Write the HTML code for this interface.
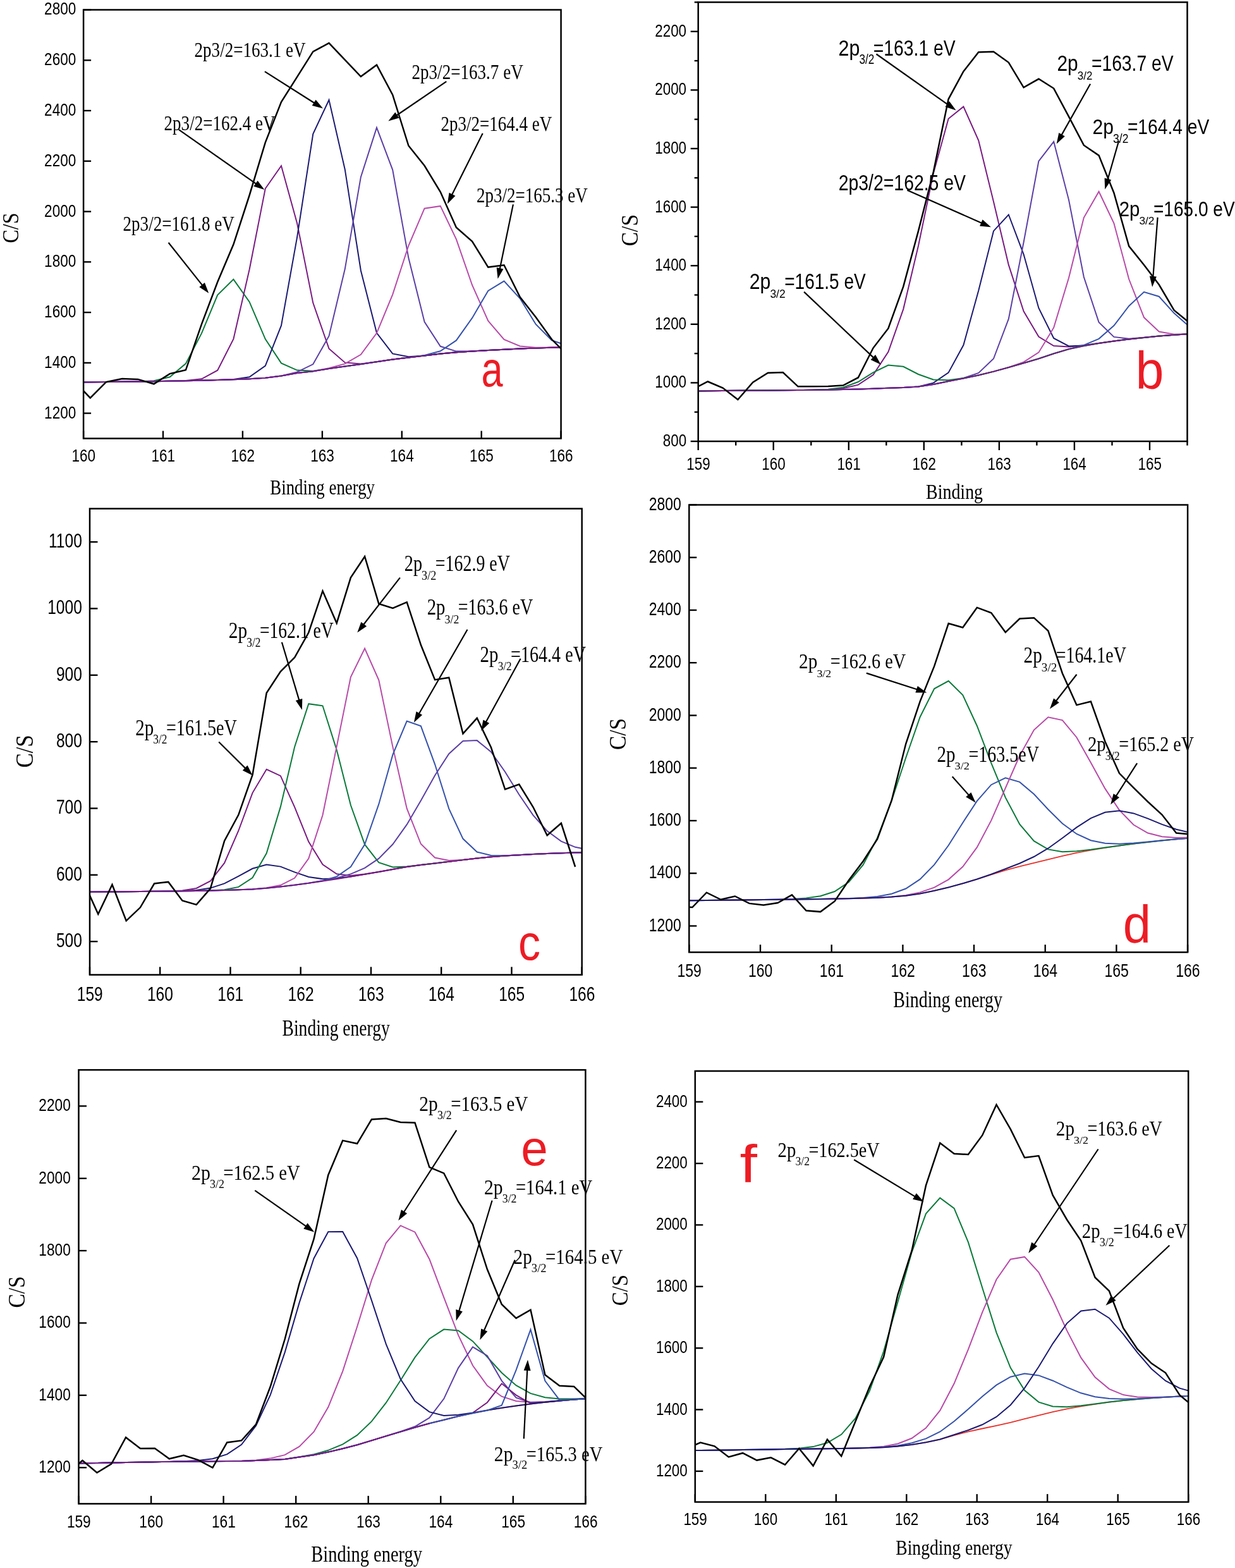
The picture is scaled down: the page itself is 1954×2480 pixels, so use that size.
<!DOCTYPE html><html><head><meta charset="utf-8"><style>html,body{margin:0;padding:0;background:#fff;width:1954px;height:2480px;overflow:hidden}svg{display:block}</style></head><body>
<svg width="1954" height="2480" viewBox="0 0 1954 2480" font-family='"Liberation Sans", Arial, sans-serif'>
<rect width="1954" height="2480" fill="#fff"/>
<clipPath id="ca"><rect x="132.1" y="15.5" width="755.5" height="678.0"/></clipPath>
<g clip-path="url(#ca)">
<polyline points="117.6,604.5 142.8,604.3 168.0,604.1 193.2,603.8 218.3,603.5 243.5,603.2 268.7,602.7 293.9,602.2 319.1,601.7 344.2,601.0 369.4,600.2 394.6,599.3 419.8,597.7 445.0,594.6 470.1,590.0 495.3,587.3 520.5,583.1 545.7,579.4 570.9,576.1 596.0,572.2 621.2,568.5 646.4,565.5 671.6,562.6 696.8,559.6 721.9,557.3 747.1,555.6 772.3,554.1 797.5,552.8 822.7,551.6 847.8,550.6 873.0,549.7 898.2,549.0" fill="none" stroke="#7a1a82" stroke-width="2.0" stroke-linejoin="miter" stroke-miterlimit="4"/>
<polyline points="117.6,604.5 142.8,604.3 168.0,604.1 193.2,603.8 218.3,603.4 243.5,602.2 268.7,596.3 293.9,575.1 319.1,526.9 344.2,466.5 369.4,441.9 394.6,477.4 419.8,536.3 445.0,574.4 470.1,585.6 495.3,586.7 520.5,583.0 545.7,579.4 570.9,576.1 596.0,572.2 621.2,568.5 646.4,565.5 671.6,562.6 696.8,559.6 721.9,557.3 747.1,555.6 772.3,554.1 797.5,552.8 822.7,551.6 847.8,550.6 873.0,549.7 898.2,549.0" fill="none" stroke="#0b7a3b" stroke-width="2.0" stroke-linejoin="miter" stroke-miterlimit="4"/>
<polyline points="117.6,604.5 142.8,604.3 168.0,604.1 193.2,603.8 218.3,603.5 243.5,603.2 268.7,602.7 293.9,602.0 319.1,599.3 344.2,585.7 369.4,536.1 394.6,426.3 419.8,298.3 445.0,262.2 470.1,353.2 495.3,479.1 520.5,551.4 545.7,573.4 570.9,575.4 596.0,572.2 621.2,568.5 646.4,565.5 671.6,562.6 696.8,559.6 721.9,557.3 747.1,555.6 772.3,554.1 797.5,552.8 822.7,551.6 847.8,550.6 873.0,549.7 898.2,549.0" fill="none" stroke="#7a1a82" stroke-width="2.0" stroke-linejoin="miter" stroke-miterlimit="4"/>
<polyline points="117.6,604.5 142.8,604.3 168.0,604.1 193.2,603.8 218.3,603.5 243.5,603.2 268.7,602.7 293.9,602.2 319.1,601.7 344.2,601.0 369.4,599.9 394.6,596.3 419.8,578.5 445.0,514.9 470.1,375.1 495.3,211.8 520.5,158.0 545.7,267.7 570.9,428.0 596.0,526.6 621.2,559.4 646.4,564.3 671.6,562.5 696.8,559.6 721.9,557.3 747.1,555.6 772.3,554.1 797.5,552.8 822.7,551.6 847.8,550.6 873.0,549.7 898.2,549.0" fill="none" stroke="#1b1a72" stroke-width="2.0" stroke-linejoin="miter" stroke-miterlimit="4"/>
<polyline points="117.6,604.5 142.8,604.3 168.0,604.1 193.2,603.8 218.3,603.5 243.5,603.2 268.7,602.7 293.9,602.2 319.1,601.7 344.2,601.0 369.4,600.2 394.6,599.3 419.8,597.7 445.0,594.5 470.1,588.4 495.3,576.1 520.5,531.5 545.7,425.8 570.9,279.9 596.0,201.9 621.2,268.6 646.4,408.1 671.6,509.1 696.8,547.8 721.9,555.6 747.1,555.4 772.3,554.1 797.5,552.8 822.7,551.6 847.8,550.6 873.0,549.7 898.2,549.0" fill="none" stroke="#5b3fa5" stroke-width="2.0" stroke-linejoin="miter" stroke-miterlimit="4"/>
<polyline points="117.6,604.5 142.8,604.3 168.0,604.1 193.2,603.8 218.3,603.5 243.5,603.2 268.7,602.7 293.9,602.2 319.1,601.7 344.2,601.0 369.4,600.2 394.6,599.3 419.8,597.7 445.0,594.6 470.1,590.0 495.3,587.2 520.5,582.3 545.7,575.4 570.9,560.8 596.0,526.8 621.2,465.8 646.4,388.5 671.6,329.7 696.8,325.9 721.9,378.3 747.1,451.0 772.3,507.5 797.5,536.9 822.7,547.5 847.8,549.8 873.0,549.6 898.2,549.0" fill="none" stroke="#b84aa8" stroke-width="2.0" stroke-linejoin="miter" stroke-miterlimit="4"/>
<polyline points="117.6,604.5 142.8,604.3 168.0,604.1 193.2,603.8 218.3,603.5 243.5,603.2 268.7,602.7 293.9,602.2 319.1,601.7 344.2,601.0 369.4,600.2 394.6,599.3 419.8,597.7 445.0,594.6 470.1,590.0 495.3,587.3 520.5,583.1 545.7,579.4 570.9,576.1 596.0,572.2 621.2,568.5 646.4,565.4 671.6,562.0 696.8,555.3 721.9,538.4 747.1,502.9 772.3,459.9 797.5,444.6 822.7,472.0 847.8,513.0 873.0,538.3 898.2,546.8" fill="none" stroke="#3552ab" stroke-width="2.0" stroke-linejoin="miter" stroke-miterlimit="4"/>
<polyline points="117.6,604.5 142.8,604.3 168.0,604.1 193.2,603.8 218.3,603.5 243.5,603.2 268.7,602.7 293.9,602.2 319.1,601.7 344.2,601.0 369.4,600.2 394.6,599.3 419.8,597.7 445.0,594.6 470.1,590.0 495.3,587.3 520.5,583.1 545.7,579.4 570.9,576.1 596.0,572.2 621.2,568.5 646.4,565.5 671.6,562.6 696.8,559.6 721.9,557.3 747.1,555.6 772.3,554.1 797.5,552.8 822.7,551.6 847.8,550.6 873.0,549.7 898.2,549.0" fill="none" stroke="#7a1a82" stroke-width="1.8" stroke-linejoin="miter" stroke-miterlimit="4"/>
<polyline points="117.6,603.0 142.8,629.4 168.0,604.2 193.2,599.0 218.3,599.9 243.5,607.3 268.7,591.1 293.9,585.3 319.1,512.4 344.2,446.0 369.4,386.6 394.6,309.0 419.8,225.4 445.0,161.4 470.1,121.7 495.3,81.6 520.5,68.1 545.7,94.7 570.9,121.1 596.0,102.7 621.2,150.0 646.4,230.5 671.6,262.0 696.8,303.5 721.9,359.8 747.1,381.8 772.3,422.6 797.5,419.3 822.7,469.8 847.8,501.8 873.0,536.8 898.2,562.0" fill="none" stroke="#000" stroke-width="2.5" stroke-linejoin="miter" stroke-miterlimit="4"/>
</g>
<text transform="translate(307.58,90.40) scale(0.8007,1)" font-family='"Liberation Serif", "Times New Roman", serif' font-size="33.79" fill="#000">2p3/2=163.1 eV</text>
<line x1="418.9" y1="113.1" x2="498.3" y2="163.5" stroke="#000" stroke-width="2.2"/>
<polygon points="511.0,171.5 493.7,167.0 499.6,157.8" fill="#000"/>
<text transform="translate(259.58,206.30) scale(0.8007,1)" font-family='"Liberation Serif", "Times New Roman", serif' font-size="33.79" fill="#000">2p3/2=162.4 eV</text>
<line x1="283.0" y1="205.1" x2="406.1" y2="291.4" stroke="#000" stroke-width="2.2"/>
<polygon points="418.4,300.0 401.3,294.7 407.6,285.7" fill="#000"/>
<text transform="translate(651.48,124.80) scale(0.8021,1)" font-family='"Liberation Serif", "Times New Roman", serif' font-size="33.79" fill="#000">2p3/2=163.7 eV</text>
<line x1="706.3" y1="128.8" x2="626.8" y2="183.0" stroke="#000" stroke-width="2.2"/>
<polygon points="614.4,191.5 625.3,177.4 631.5,186.5" fill="#000"/>
<text transform="translate(697.48,206.50) scale(0.8112,1)" font-family='"Liberation Serif", "Times New Roman", serif' font-size="33.33" fill="#000">2p3/2=164.4 eV</text>
<line x1="763.7" y1="210.9" x2="714.6" y2="309.1" stroke="#000" stroke-width="2.2"/>
<polygon points="707.9,322.5 710.6,304.8 720.4,309.8" fill="#000"/>
<text transform="translate(753.88,320.30) scale(0.8007,1)" font-family='"Liberation Serif", "Times New Roman", serif' font-size="33.79" fill="#000">2p3/2=165.3 eV</text>
<line x1="811.9" y1="323.4" x2="790.6" y2="426.2" stroke="#000" stroke-width="2.2"/>
<polygon points="787.6,440.9 785.7,423.1 796.4,425.4" fill="#000"/>
<text transform="translate(194.48,364.80) scale(0.7815,1)" font-family='"Liberation Serif", "Times New Roman", serif' font-size="34.70" fill="#000">2p3/2=161.8 eV</text>
<line x1="266.6" y1="383.8" x2="320.9" y2="452.1" stroke="#000" stroke-width="2.2"/>
<polygon points="330.2,463.8 315.3,453.9 323.9,447.1" fill="#000"/>
<rect x="132.1" y="15.5" width="755.5" height="678.0" fill="none" stroke="#000" stroke-width="2.5"/>
<line x1="132.1" y1="693.5" x2="132.1" y2="681.5" stroke="#000" stroke-width="2.38"/>
<line x1="258.0" y1="693.5" x2="258.0" y2="681.5" stroke="#000" stroke-width="2.38"/>
<line x1="383.9" y1="693.5" x2="383.9" y2="681.5" stroke="#000" stroke-width="2.38"/>
<line x1="509.9" y1="693.5" x2="509.9" y2="681.5" stroke="#000" stroke-width="2.38"/>
<line x1="635.8" y1="693.5" x2="635.8" y2="681.5" stroke="#000" stroke-width="2.38"/>
<line x1="761.7" y1="693.5" x2="761.7" y2="681.5" stroke="#000" stroke-width="2.38"/>
<line x1="887.6" y1="693.5" x2="887.6" y2="681.5" stroke="#000" stroke-width="2.38"/>
<line x1="132.1" y1="653.6" x2="144.1" y2="653.6" stroke="#000" stroke-width="2.38"/>
<line x1="132.1" y1="573.9" x2="144.1" y2="573.9" stroke="#000" stroke-width="2.38"/>
<line x1="132.1" y1="494.1" x2="144.1" y2="494.1" stroke="#000" stroke-width="2.38"/>
<line x1="132.1" y1="414.3" x2="144.1" y2="414.3" stroke="#000" stroke-width="2.38"/>
<line x1="132.1" y1="334.6" x2="144.1" y2="334.6" stroke="#000" stroke-width="2.38"/>
<line x1="132.1" y1="254.8" x2="144.1" y2="254.8" stroke="#000" stroke-width="2.38"/>
<line x1="132.1" y1="175.0" x2="144.1" y2="175.0" stroke="#000" stroke-width="2.38"/>
<line x1="132.1" y1="95.3" x2="144.1" y2="95.3" stroke="#000" stroke-width="2.38"/>
<line x1="132.1" y1="15.5" x2="144.1" y2="15.5" stroke="#000" stroke-width="2.38"/>
<text transform="translate(70.08,661.57) scale(0.8100,1)" font-size="27.86">1200</text>
<text transform="translate(70.08,581.80) scale(0.8100,1)" font-size="27.86">1400</text>
<text transform="translate(70.08,502.04) scale(0.8100,1)" font-size="27.86">1600</text>
<text transform="translate(70.08,422.27) scale(0.8100,1)" font-size="27.86">1800</text>
<text transform="translate(70.08,342.51) scale(0.8100,1)" font-size="27.86">2000</text>
<text transform="translate(70.08,262.74) scale(0.8100,1)" font-size="27.86">2200</text>
<text transform="translate(70.08,182.98) scale(0.8100,1)" font-size="27.86">2400</text>
<text transform="translate(70.08,103.21) scale(0.8100,1)" font-size="27.86">2600</text>
<text transform="translate(70.08,23.45) scale(0.8100,1)" font-size="27.86">2800</text>
<text transform="translate(113.46,729.70) scale(0.8100,1)" font-size="27.86">160</text>
<text transform="translate(239.49,729.70) scale(0.8100,1)" font-size="27.86">161</text>
<text transform="translate(365.47,729.70) scale(0.8100,1)" font-size="27.86">162</text>
<text transform="translate(491.27,729.70) scale(0.8100,1)" font-size="27.86">163</text>
<text transform="translate(617.07,729.70) scale(0.8100,1)" font-size="27.86">164</text>
<text transform="translate(743.10,729.70) scale(0.8100,1)" font-size="27.86">165</text>
<text transform="translate(869.02,729.70) scale(0.8100,1)" font-size="27.86">166</text>
<text transform="translate(28.50,384.48) rotate(-90) scale(0.8837,1)" font-family='"Liberation Serif", "Times New Roman", serif' font-size="36.21">C/S</text>
<text transform="translate(427.29,781.80) scale(0.7848,1)" font-family='"Liberation Serif", "Times New Roman", serif' font-size="34.20" fill="#000">Binding energy</text>
<text transform="translate(761.55,610.60) scale(0.7796,1)" font-family='"Liberation Sans", Arial, sans-serif' font-size="78.70" fill="#ec1c24">a</text>
<clipPath id="cb"><rect x="1104.7" y="3.5" width="773.8" height="694.5"/></clipPath>
<g clip-path="url(#cb)">
<polyline points="1096.0,618.5 1119.8,618.2 1143.6,618.0 1167.4,617.7 1191.2,617.6 1215.0,617.4 1238.8,617.2 1262.6,617.0 1286.4,616.7 1310.2,616.0 1334.0,614.2 1357.8,608.6 1381.6,592.8 1405.4,556.6 1429.2,489.1 1453.0,388.7 1476.8,274.3 1500.6,187.8 1524.4,168.7 1548.2,222.0 1572.0,319.1 1595.8,418.9 1619.6,492.3 1643.4,532.6 1667.2,547.0 1691.0,548.6 1714.8,546.3 1738.6,542.7 1762.4,539.4 1786.2,536.5 1810.0,533.9 1833.8,531.6 1857.6,529.7 1881.4,528.2 1905.2,527.3" fill="none" stroke="#7a1a82" stroke-width="2.0" stroke-linejoin="miter" stroke-miterlimit="4"/>
<polyline points="1096.0,618.5 1119.8,618.2 1143.6,618.0 1167.4,617.7 1191.2,617.6 1215.0,617.4 1238.8,617.2 1262.6,617.0 1286.4,616.8 1310.2,616.5 1334.0,616.1 1357.8,615.6 1381.6,614.7 1405.4,613.8 1429.2,612.9 1453.0,611.4 1476.8,605.6 1500.6,589.4 1524.4,545.8 1548.2,459.7 1572.0,365.4 1595.8,339.5 1619.6,402.3 1643.4,487.2 1667.2,534.9 1691.0,547.4 1714.8,546.5 1738.6,542.9 1762.4,539.5 1786.2,536.5 1810.0,533.9 1833.8,531.6 1857.6,529.7 1881.4,528.2 1905.2,527.3" fill="none" stroke="#1b1a72" stroke-width="2.0" stroke-linejoin="miter" stroke-miterlimit="4"/>
<polyline points="1096.0,618.5 1119.8,618.2 1143.6,618.0 1167.4,617.7 1191.2,617.6 1215.0,617.4 1238.8,617.2 1262.6,617.0 1286.4,616.8 1310.2,616.5 1334.0,616.1 1357.8,615.6 1381.6,614.7 1405.4,613.8 1429.2,612.9 1453.0,611.6 1476.8,607.9 1500.6,603.0 1524.4,598.0 1548.2,589.9 1572.0,567.3 1595.8,504.4 1619.6,383.2 1643.4,254.9 1667.2,224.1 1691.0,316.1 1714.8,438.0 1738.6,509.8 1762.4,532.9 1786.2,535.7 1810.0,533.8 1833.8,531.6 1857.6,529.7 1881.4,528.2 1905.2,527.3" fill="none" stroke="#5b3fa5" stroke-width="2.0" stroke-linejoin="miter" stroke-miterlimit="4"/>
<polyline points="1096.0,618.5 1119.8,618.2 1143.6,618.0 1167.4,617.7 1191.2,617.6 1215.0,617.4 1238.8,617.2 1262.6,617.0 1286.4,616.8 1310.2,616.5 1334.0,616.1 1357.8,615.6 1381.6,614.7 1405.4,613.8 1429.2,612.9 1453.0,611.6 1476.8,607.9 1500.6,603.0 1524.4,598.4 1548.2,593.4 1572.0,587.6 1595.8,581.0 1619.6,572.7 1643.4,557.4 1667.2,518.2 1691.0,439.6 1714.8,344.3 1738.6,303.0 1762.4,353.1 1786.2,441.5 1810.0,502.1 1833.8,524.6 1857.6,528.7 1881.4,528.1 1905.2,527.3" fill="none" stroke="#b84aa8" stroke-width="2.0" stroke-linejoin="miter" stroke-miterlimit="4"/>
<polyline points="1096.0,618.5 1119.8,618.2 1143.6,618.0 1167.4,617.7 1191.2,617.6 1215.0,617.4 1238.8,617.2 1262.6,617.0 1286.4,616.8 1310.2,616.5 1334.0,616.1 1357.8,615.6 1381.6,614.7 1405.4,613.8 1429.2,612.9 1453.0,611.6 1476.8,607.9 1500.6,603.0 1524.4,598.4 1548.2,593.4 1572.0,587.6 1595.8,581.1 1619.6,574.3 1643.4,567.3 1667.2,559.3 1691.0,552.1 1714.8,545.8 1738.6,535.8 1762.4,515.1 1786.2,483.9 1810.0,461.8 1833.8,469.0 1857.6,495.3 1881.4,516.3 1905.2,524.7" fill="none" stroke="#3552ab" stroke-width="2.0" stroke-linejoin="miter" stroke-miterlimit="4"/>
<polyline points="1096.0,618.5 1119.8,618.2 1143.6,618.0 1167.4,617.7 1191.2,617.6 1215.0,617.4 1238.8,617.2 1262.6,617.0 1286.4,616.7 1310.2,615.8 1334.0,612.7 1357.8,604.0 1381.6,589.2 1405.4,577.6 1429.2,579.8 1453.0,592.0 1476.8,600.4 1500.6,601.2 1524.4,598.1 1548.2,593.4 1572.0,587.6 1595.8,581.1 1619.6,574.3 1643.4,567.3 1667.2,559.3 1691.0,552.2 1714.8,547.2 1738.6,542.9 1762.4,539.5 1786.2,536.5 1810.0,533.9 1833.8,531.6 1857.6,529.7 1881.4,528.2 1905.2,527.3" fill="none" stroke="#0b7a3b" stroke-width="2.0" stroke-linejoin="miter" stroke-miterlimit="4"/>
<polyline points="1096.0,618.5 1119.8,618.2 1143.6,618.0 1167.4,617.7 1191.2,617.6 1215.0,617.4 1238.8,617.2 1262.6,617.0 1286.4,616.8 1310.2,616.5 1334.0,616.1 1357.8,615.6 1381.6,614.7 1405.4,613.8 1429.2,612.9 1453.0,611.6 1476.8,607.9 1500.6,603.0 1524.4,598.4 1548.2,593.4 1572.0,587.6 1595.8,581.1 1619.6,574.3 1643.4,567.3 1667.2,559.3 1691.0,552.2 1714.8,547.2 1738.6,542.9 1762.4,539.5 1786.2,536.5 1810.0,533.9 1833.8,531.6 1857.6,529.7 1881.4,528.2 1905.2,527.3" fill="none" stroke="#7a1a82" stroke-width="1.8" stroke-linejoin="miter" stroke-miterlimit="4"/>
<polyline points="1096.0,615.6 1119.8,603.5 1143.6,613.6 1167.4,632.0 1191.2,604.8 1215.0,589.8 1238.8,589.0 1262.6,611.3 1286.4,611.3 1310.2,610.9 1334.0,609.5 1357.8,597.2 1381.6,550.3 1405.4,519.4 1429.2,453.4 1453.0,365.4 1476.8,272.0 1500.6,156.8 1524.4,112.9 1548.2,82.5 1572.0,81.8 1595.8,98.8 1619.6,138.4 1643.4,124.8 1667.2,139.8 1691.0,184.4 1714.8,229.7 1738.6,245.9 1762.4,305.0 1786.2,389.4 1810.0,419.0 1833.8,450.3 1857.6,490.7 1881.4,510.2" fill="none" stroke="#000" stroke-width="2.5" stroke-linejoin="miter" stroke-miterlimit="4"/>
</g>
<text transform="translate(1326.58,87.70) scale(0.8719,1)" font-family='"Liberation Sans", Arial, sans-serif' font-size="34.86">2p</text>
<text transform="translate(1359.41,101.20) scale(0.8005,1)" font-family='"Liberation Sans", Arial, sans-serif' font-size="21.43">3/2</text>
<text transform="translate(1381.78,87.70) scale(0.8119,1)" font-family='"Liberation Sans", Arial, sans-serif' font-size="34.86">=163.1 eV</text>
<line x1="1386.5" y1="85.5" x2="1500.3" y2="165.8" stroke="#000" stroke-width="2.2"/>
<polygon points="1512.6,174.4 1495.5,169.1 1501.9,160.1" fill="#000"/>
<text transform="translate(1326.68,301.30) scale(0.8086,1)" font-family='"Liberation Sans", Arial, sans-serif' font-size="35.14" fill="#000">2p3/2=162.5 eV</text>
<line x1="1435.3" y1="300.8" x2="1554.2" y2="353.2" stroke="#000" stroke-width="2.2"/>
<polygon points="1567.9,359.2 1550.1,357.4 1554.6,347.3" fill="#000"/>
<text transform="translate(1185.79,457.20) scale(0.8592,1)" font-family='"Liberation Sans", Arial, sans-serif' font-size="35.14">2p</text>
<text transform="translate(1218.40,470.80) scale(0.9624,1)" font-family='"Liberation Sans", Arial, sans-serif' font-size="18.14">3/2</text>
<text transform="translate(1241.20,457.20) scale(0.7978,1)" font-family='"Liberation Sans", Arial, sans-serif' font-size="35.14">=161.5 eV</text>
<line x1="1272.1" y1="461.6" x2="1382.8" y2="566.4" stroke="#000" stroke-width="2.2"/>
<polygon points="1393.7,576.7 1377.6,569.0 1385.1,561.0" fill="#000"/>
<text transform="translate(1672.50,111.80) scale(0.8721,1)" font-family='"Liberation Sans", Arial, sans-serif' font-size="34.29">2p</text>
<text transform="translate(1704.82,125.50) scale(0.9255,1)" font-family='"Liberation Sans", Arial, sans-serif' font-size="18.29">3/2</text>
<text transform="translate(1726.88,111.80) scale(0.8254,1)" font-family='"Liberation Sans", Arial, sans-serif' font-size="34.29">=163.7 eV</text>
<line x1="1725.1" y1="132.7" x2="1679.1" y2="214.4" stroke="#000" stroke-width="2.2"/>
<polygon points="1671.7,227.5 1675.3,210.0 1684.8,215.4" fill="#000"/>
<text transform="translate(1728.60,212.40) scale(0.9121,1)" font-family='"Liberation Sans", Arial, sans-serif' font-size="33.00">2p</text>
<text transform="translate(1761.10,225.70) scale(0.8608,1)" font-family='"Liberation Sans", Arial, sans-serif' font-size="20.29">3/2</text>
<text transform="translate(1783.89,212.40) scale(0.8549,1)" font-family='"Liberation Sans", Arial, sans-serif' font-size="33.00">=164.4 eV</text>
<line x1="1770.1" y1="223.0" x2="1752.3" y2="285.0" stroke="#000" stroke-width="2.2"/>
<polygon points="1748.2,299.4 1747.6,281.5 1758.2,284.6" fill="#000"/>
<text transform="translate(1770.63,342.40) scale(0.8913,1)" font-family='"Liberation Sans", Arial, sans-serif' font-size="33.00">2p</text>
<text transform="translate(1802.41,355.30) scale(1.0628,1)" font-family='"Liberation Sans", Arial, sans-serif' font-size="16.29">3/2</text>
<text transform="translate(1825.00,342.40) scale(0.8502,1)" font-family='"Liberation Sans", Arial, sans-serif' font-size="33.00">=165.0 eV</text>
<line x1="1831.6" y1="343.9" x2="1824.3" y2="438.9" stroke="#000" stroke-width="2.2"/>
<polygon points="1823.1,453.9 1818.9,436.5 1829.9,437.4" fill="#000"/>
<rect x="1104.7" y="3.5" width="773.8" height="694.5" fill="none" stroke="#000" stroke-width="2.5"/>
<line x1="1104.7" y1="698.0" x2="1104.7" y2="712.0" stroke="#000" stroke-width="2.38"/>
<line x1="1223.7" y1="698.0" x2="1223.7" y2="712.0" stroke="#000" stroke-width="2.38"/>
<line x1="1342.8" y1="698.0" x2="1342.8" y2="712.0" stroke="#000" stroke-width="2.38"/>
<line x1="1461.8" y1="698.0" x2="1461.8" y2="712.0" stroke="#000" stroke-width="2.38"/>
<line x1="1580.9" y1="698.0" x2="1580.9" y2="712.0" stroke="#000" stroke-width="2.38"/>
<line x1="1699.9" y1="698.0" x2="1699.9" y2="712.0" stroke="#000" stroke-width="2.38"/>
<line x1="1819.0" y1="698.0" x2="1819.0" y2="712.0" stroke="#000" stroke-width="2.38"/>
<line x1="1104.7" y1="698.0" x2="1092.7" y2="698.0" stroke="#000" stroke-width="2.38"/>
<line x1="1104.7" y1="605.4" x2="1092.7" y2="605.4" stroke="#000" stroke-width="2.38"/>
<line x1="1104.7" y1="512.8" x2="1092.7" y2="512.8" stroke="#000" stroke-width="2.38"/>
<line x1="1104.7" y1="420.2" x2="1092.7" y2="420.2" stroke="#000" stroke-width="2.38"/>
<line x1="1104.7" y1="327.6" x2="1092.7" y2="327.6" stroke="#000" stroke-width="2.38"/>
<line x1="1104.7" y1="235.0" x2="1092.7" y2="235.0" stroke="#000" stroke-width="2.38"/>
<line x1="1104.7" y1="142.4" x2="1092.7" y2="142.4" stroke="#000" stroke-width="2.38"/>
<line x1="1104.7" y1="49.8" x2="1092.7" y2="49.8" stroke="#000" stroke-width="2.38"/>
<line x1="1164.2" y1="698.0" x2="1164.2" y2="704.6" stroke="#000" stroke-width="2.38"/>
<line x1="1283.3" y1="698.0" x2="1283.3" y2="704.6" stroke="#000" stroke-width="2.38"/>
<line x1="1402.3" y1="698.0" x2="1402.3" y2="704.6" stroke="#000" stroke-width="2.38"/>
<line x1="1521.4" y1="698.0" x2="1521.4" y2="704.6" stroke="#000" stroke-width="2.38"/>
<line x1="1640.4" y1="698.0" x2="1640.4" y2="704.6" stroke="#000" stroke-width="2.38"/>
<line x1="1759.5" y1="698.0" x2="1759.5" y2="704.6" stroke="#000" stroke-width="2.38"/>
<line x1="1878.5" y1="698.0" x2="1878.5" y2="704.6" stroke="#000" stroke-width="2.38"/>
<line x1="1104.7" y1="651.7" x2="1098.7" y2="651.7" stroke="#000" stroke-width="2.38"/>
<line x1="1104.7" y1="559.1" x2="1098.7" y2="559.1" stroke="#000" stroke-width="2.38"/>
<line x1="1104.7" y1="466.5" x2="1098.7" y2="466.5" stroke="#000" stroke-width="2.38"/>
<line x1="1104.7" y1="373.9" x2="1098.7" y2="373.9" stroke="#000" stroke-width="2.38"/>
<line x1="1104.7" y1="281.3" x2="1098.7" y2="281.3" stroke="#000" stroke-width="2.38"/>
<line x1="1104.7" y1="188.7" x2="1098.7" y2="188.7" stroke="#000" stroke-width="2.38"/>
<line x1="1104.7" y1="96.1" x2="1098.7" y2="96.1" stroke="#000" stroke-width="2.38"/>
<line x1="1104.7" y1="3.5" x2="1098.7" y2="3.5" stroke="#000" stroke-width="2.38"/>
<text transform="translate(1048.79,706.00) scale(0.8000,1)" font-size="28.00">800</text>
<text transform="translate(1036.24,613.40) scale(0.8000,1)" font-size="28.00">1000</text>
<text transform="translate(1036.24,520.80) scale(0.8000,1)" font-size="28.00">1200</text>
<text transform="translate(1036.24,428.20) scale(0.8000,1)" font-size="28.00">1400</text>
<text transform="translate(1036.24,335.60) scale(0.8000,1)" font-size="28.00">1600</text>
<text transform="translate(1036.24,243.00) scale(0.8000,1)" font-size="28.00">1800</text>
<text transform="translate(1036.24,150.40) scale(0.8000,1)" font-size="28.00">2000</text>
<text transform="translate(1036.24,57.80) scale(0.8000,1)" font-size="28.00">2200</text>
<text transform="translate(1086.32,742.60) scale(0.8000,1)" font-size="28.00">159</text>
<text transform="translate(1205.25,742.60) scale(0.8000,1)" font-size="28.00">160</text>
<text transform="translate(1324.41,742.60) scale(0.8000,1)" font-size="28.00">161</text>
<text transform="translate(1443.51,742.60) scale(0.8000,1)" font-size="28.00">162</text>
<text transform="translate(1562.44,742.60) scale(0.8000,1)" font-size="28.00">163</text>
<text transform="translate(1681.38,742.60) scale(0.8000,1)" font-size="28.00">164</text>
<text transform="translate(1800.54,742.60) scale(0.8000,1)" font-size="28.00">165</text>
<text transform="translate(1008.80,389.13) rotate(-90) scale(0.8949,1)" font-family='"Liberation Serif", "Times New Roman", serif' font-size="37.27">C/S</text>
<text transform="translate(1465.06,788.90) scale(0.8133,1)" font-family='"Liberation Serif", "Times New Roman", serif' font-size="34.35" fill="#000">Binding</text>
<text transform="translate(1796.69,615.10) scale(0.9710,1)" font-family='"Liberation Sans", Arial, sans-serif' font-size="82.62" fill="#ec1c24">b</text>
<clipPath id="cc"><rect x="142.0" y="804.5" width="778.7" height="737.3"/></clipPath>
<g clip-path="url(#cc)">
<polyline points="133.1,1410.8 155.3,1410.6 177.5,1410.4 199.7,1410.2 221.9,1410.0 244.1,1409.8 266.3,1409.5 288.5,1409.1 310.7,1407.9 332.9,1404.6 355.1,1397.4 377.3,1385.8 399.5,1373.8 421.7,1367.6 443.9,1370.6 466.1,1379.4 488.3,1387.0 510.5,1390.2 532.7,1389.3 554.9,1386.5 577.1,1382.8 599.3,1378.9 621.5,1374.9 643.7,1371.0 665.9,1368.0 688.1,1365.4 710.3,1362.8 732.5,1360.1 754.7,1357.5 776.9,1355.3 799.1,1353.6 821.3,1352.3 843.5,1351.1 865.7,1350.1 887.9,1349.3 910.1,1348.6 932.3,1348.1" fill="none" stroke="#1b1a72" stroke-width="2.0" stroke-linejoin="miter" stroke-miterlimit="4"/>
<polyline points="133.1,1410.8 155.3,1410.6 177.5,1410.4 199.7,1410.2 221.9,1410.0 244.1,1409.8 266.3,1409.5 288.5,1408.5 310.7,1405.0 332.9,1393.5 355.1,1364.9 377.3,1314.0 399.5,1254.1 421.7,1216.8 443.9,1227.2 466.1,1276.4 488.3,1331.3 510.5,1367.3 532.7,1382.3 554.9,1384.9 577.1,1382.6 599.3,1378.9 621.5,1374.9 643.7,1371.0 665.9,1368.0 688.1,1365.4 710.3,1362.8 732.5,1360.1 754.7,1357.5 776.9,1355.3 799.1,1353.6 821.3,1352.3 843.5,1351.1 865.7,1350.1 887.9,1349.3 910.1,1348.6 932.3,1348.1" fill="none" stroke="#7a1a82" stroke-width="2.0" stroke-linejoin="miter" stroke-miterlimit="4"/>
<polyline points="133.1,1410.8 155.3,1410.6 177.5,1410.4 199.7,1410.2 221.9,1410.0 244.1,1409.8 266.3,1409.6 288.5,1409.3 310.7,1409.0 332.9,1408.5 355.1,1407.2 377.3,1402.9 399.5,1388.3 421.7,1349.5 443.9,1275.9 466.1,1181.4 488.3,1113.2 510.5,1116.3 532.7,1186.1 554.9,1273.5 577.1,1335.7 599.3,1364.1 621.5,1371.4 643.7,1370.4 665.9,1367.9 688.1,1365.4 710.3,1362.8 732.5,1360.1 754.7,1357.5 776.9,1355.3 799.1,1353.6 821.3,1352.3 843.5,1351.1 865.7,1350.1 887.9,1349.3 910.1,1348.6 932.3,1348.1" fill="none" stroke="#0b7a3b" stroke-width="2.0" stroke-linejoin="miter" stroke-miterlimit="4"/>
<polyline points="133.1,1410.8 155.3,1410.6 177.5,1410.4 199.7,1410.2 221.9,1410.0 244.1,1409.8 266.3,1409.6 288.5,1409.3 310.7,1409.0 332.9,1408.6 355.1,1408.1 377.3,1407.3 399.5,1406.4 421.7,1404.3 443.9,1400.1 466.1,1388.8 488.3,1357.8 510.5,1289.3 532.7,1180.6 554.9,1070.7 577.1,1025.5 599.3,1075.6 621.5,1181.6 643.7,1278.7 665.9,1334.8 688.1,1356.5 710.3,1361.0 732.5,1359.9 754.7,1357.5 776.9,1355.3 799.1,1353.6 821.3,1352.3 843.5,1351.1 865.7,1350.1 887.9,1349.3 910.1,1348.6 932.3,1348.1" fill="none" stroke="#b84aa8" stroke-width="2.0" stroke-linejoin="miter" stroke-miterlimit="4"/>
<polyline points="133.1,1410.8 155.3,1410.6 177.5,1410.4 199.7,1410.2 221.9,1410.0 244.1,1409.8 266.3,1409.6 288.5,1409.3 310.7,1409.0 332.9,1408.6 355.1,1408.1 377.3,1407.3 399.5,1406.4 421.7,1404.7 443.9,1402.4 466.1,1399.8 488.3,1396.8 510.5,1393.0 532.7,1386.4 554.9,1371.1 577.1,1335.6 599.3,1271.9 621.5,1193.4 643.7,1140.5 665.9,1148.4 688.1,1208.8 710.3,1279.1 732.5,1326.6 754.7,1347.5 776.9,1353.0 799.1,1353.2 821.3,1352.2 843.5,1351.1 865.7,1350.1 887.9,1349.3 910.1,1348.6 932.3,1348.1" fill="none" stroke="#3552ab" stroke-width="2.0" stroke-linejoin="miter" stroke-miterlimit="4"/>
<polyline points="133.1,1410.8 155.3,1410.6 177.5,1410.4 199.7,1410.2 221.9,1410.0 244.1,1409.8 266.3,1409.6 288.5,1409.3 310.7,1409.0 332.9,1408.6 355.1,1408.1 377.3,1407.3 399.5,1406.4 421.7,1404.7 443.9,1402.4 466.1,1399.7 488.3,1396.7 510.5,1393.2 532.7,1388.7 554.9,1382.4 577.1,1372.9 599.3,1357.9 621.5,1335.3 643.7,1304.2 665.9,1266.2 688.1,1226.4 710.3,1192.2 732.5,1172.0 754.7,1171.1 776.9,1189.2 799.1,1220.7 821.3,1256.7 843.5,1289.4 865.7,1314.3 887.9,1330.6 910.1,1339.8 932.3,1344.4" fill="none" stroke="#5b3fa5" stroke-width="2.0" stroke-linejoin="miter" stroke-miterlimit="4"/>
<polyline points="133.1,1410.8 155.3,1410.6 177.5,1410.4 199.7,1410.2 221.9,1410.0 244.1,1409.8 266.3,1409.6 288.5,1409.3 310.7,1409.0 332.9,1408.6 355.1,1408.1 377.3,1407.3 399.5,1406.4 421.7,1404.7 443.9,1402.4 466.1,1399.8 488.3,1396.9 510.5,1393.7 532.7,1390.3 554.9,1386.7 577.1,1382.9 599.3,1378.9 621.5,1374.9 643.7,1371.0 665.9,1368.0 688.1,1365.4 710.3,1362.8 732.5,1360.1 754.7,1357.5 776.9,1355.3 799.1,1353.6 821.3,1352.3 843.5,1351.1 865.7,1350.1 887.9,1349.3 910.1,1348.6 932.3,1348.1" fill="none" stroke="#7a1a82" stroke-width="1.8" stroke-linejoin="miter" stroke-miterlimit="4"/>
<polyline points="133.1,1396.7 155.3,1445.8 177.5,1399.2 199.7,1456.3 221.9,1435.3 244.1,1397.5 266.3,1394.9 288.5,1424.4 310.7,1430.9 332.9,1405.4 355.1,1329.9 377.3,1288.8 399.5,1225.6 421.7,1096.0 443.9,1062.0 466.1,1040.0 488.3,1000.5 510.5,934.7 532.7,985.6 554.9,913.6 577.1,880.2 599.3,954.9 621.5,961.9 643.7,952.4 665.9,1020.0 688.1,1075.2 710.3,1071.7 732.5,1160.4 754.7,1135.8 776.9,1182.0 799.1,1248.4 821.3,1240.5 843.5,1276.5 865.7,1321.3 887.9,1302.0 910.1,1371.0" fill="none" stroke="#000" stroke-width="2.5" stroke-linejoin="miter" stroke-miterlimit="4"/>
</g>
<text transform="translate(639.73,902.60) scale(0.7883,1)" font-family='"Liberation Serif", "Times New Roman", serif' font-size="35.91">2p</text>
<text transform="translate(667.08,916.60) scale(0.9110,1)" font-family='"Liberation Serif", "Times New Roman", serif' font-size="20.00">3/2</text>
<text transform="translate(688.80,902.60) scale(0.7773,1)" font-family='"Liberation Serif", "Times New Roman", serif' font-size="35.91">=162.9 eV</text>
<line x1="632.9" y1="913.6" x2="574.5" y2="988.7" stroke="#000" stroke-width="2.2"/>
<polygon points="565.3,1000.5 571.4,983.7 580.1,990.5" fill="#000"/>
<text transform="translate(361.78,1008.90) scale(0.7985,1)" font-family='"Liberation Serif", "Times New Roman", serif' font-size="36.82">2p</text>
<text transform="translate(390.22,1023.10) scale(0.8249,1)" font-family='"Liberation Serif", "Times New Roman", serif' font-size="21.06">3/2</text>
<text transform="translate(410.92,1008.90) scale(0.7503,1)" font-family='"Liberation Serif", "Times New Roman", serif' font-size="36.82">=162.1 eV</text>
<line x1="445.9" y1="1015.7" x2="473.6" y2="1108.4" stroke="#000" stroke-width="2.2"/>
<polygon points="477.9,1122.8 467.8,1108.1 478.3,1104.9" fill="#000"/>
<text transform="translate(675.70,972.30) scale(0.8001,1)" font-family='"Liberation Serif", "Times New Roman", serif' font-size="36.06">2p</text>
<text transform="translate(703.60,986.20) scale(0.8966,1)" font-family='"Liberation Serif", "Times New Roman", serif' font-size="19.85">3/2</text>
<text transform="translate(724.80,972.30) scale(0.7767,1)" font-family='"Liberation Serif", "Times New Roman", serif' font-size="36.06">=163.6 eV</text>
<line x1="739.5" y1="995.8" x2="662.4" y2="1129.8" stroke="#000" stroke-width="2.2"/>
<polygon points="654.9,1142.8 658.6,1125.3 668.1,1130.8" fill="#000"/>
<text transform="translate(759.60,1046.60) scale(0.8239,1)" font-family='"Liberation Serif", "Times New Roman", serif' font-size="35.15">2p</text>
<text transform="translate(787.63,1060.30) scale(0.9231,1)" font-family='"Liberation Serif", "Times New Roman", serif' font-size="18.64">3/2</text>
<text transform="translate(808.09,1046.60) scale(0.7996,1)" font-family='"Liberation Serif", "Times New Roman", serif' font-size="35.15">=164.4 eV</text>
<line x1="823.6" y1="1041.8" x2="768.4" y2="1142.8" stroke="#000" stroke-width="2.2"/>
<polygon points="761.2,1156.0 764.5,1138.4 774.2,1143.7" fill="#000"/>
<text transform="translate(214.19,1162.50) scale(0.8062,1)" font-family='"Liberation Serif", "Times New Roman", serif' font-size="36.06">2p</text>
<text transform="translate(242.32,1176.40) scale(0.8249,1)" font-family='"Liberation Serif", "Times New Roman", serif' font-size="21.06">3/2</text>
<text transform="translate(263.00,1162.50) scale(0.7789,1)" font-family='"Liberation Serif", "Times New Roman", serif' font-size="36.06">=161.5eV</text>
<line x1="346.2" y1="1173.5" x2="389.0" y2="1215.9" stroke="#000" stroke-width="2.2"/>
<polygon points="399.7,1226.5 383.8,1218.4 391.5,1210.6" fill="#000"/>
<rect x="142.0" y="804.5" width="778.7" height="737.3" fill="none" stroke="#000" stroke-width="2.5"/>
<line x1="142.0" y1="1541.8" x2="142.0" y2="1529.3" stroke="#000" stroke-width="2.38"/>
<line x1="253.2" y1="1541.8" x2="253.2" y2="1529.3" stroke="#000" stroke-width="2.38"/>
<line x1="364.5" y1="1541.8" x2="364.5" y2="1529.3" stroke="#000" stroke-width="2.38"/>
<line x1="475.7" y1="1541.8" x2="475.7" y2="1529.3" stroke="#000" stroke-width="2.38"/>
<line x1="587.0" y1="1541.8" x2="587.0" y2="1529.3" stroke="#000" stroke-width="2.38"/>
<line x1="698.2" y1="1541.8" x2="698.2" y2="1529.3" stroke="#000" stroke-width="2.38"/>
<line x1="809.5" y1="1541.8" x2="809.5" y2="1529.3" stroke="#000" stroke-width="2.38"/>
<line x1="920.7" y1="1541.8" x2="920.7" y2="1529.3" stroke="#000" stroke-width="2.38"/>
<line x1="142.0" y1="1489.1" x2="154.5" y2="1489.1" stroke="#000" stroke-width="2.38"/>
<line x1="142.0" y1="1383.8" x2="154.5" y2="1383.8" stroke="#000" stroke-width="2.38"/>
<line x1="142.0" y1="1278.5" x2="154.5" y2="1278.5" stroke="#000" stroke-width="2.38"/>
<line x1="142.0" y1="1173.2" x2="154.5" y2="1173.2" stroke="#000" stroke-width="2.38"/>
<line x1="142.0" y1="1067.8" x2="154.5" y2="1067.8" stroke="#000" stroke-width="2.38"/>
<line x1="142.0" y1="962.5" x2="154.5" y2="962.5" stroke="#000" stroke-width="2.38"/>
<line x1="142.0" y1="857.2" x2="154.5" y2="857.2" stroke="#000" stroke-width="2.38"/>
<text transform="translate(88.95,1498.09) scale(0.8000,1)" font-size="30.71">500</text>
<text transform="translate(88.95,1392.76) scale(0.8000,1)" font-size="30.71">600</text>
<text transform="translate(88.95,1287.43) scale(0.8000,1)" font-size="30.71">700</text>
<text transform="translate(88.95,1182.10) scale(0.8000,1)" font-size="30.71">800</text>
<text transform="translate(88.95,1076.77) scale(0.8000,1)" font-size="30.71">900</text>
<text transform="translate(75.19,971.44) scale(0.8000,1)" font-size="30.71">1000</text>
<text transform="translate(77.03,866.11) scale(0.8000,1)" font-size="30.71">1100</text>
<text transform="translate(121.78,1582.50) scale(0.8000,1)" font-size="30.71">159</text>
<text transform="translate(232.90,1582.50) scale(0.8000,1)" font-size="30.71">160</text>
<text transform="translate(344.26,1582.50) scale(0.8000,1)" font-size="30.71">161</text>
<text transform="translate(455.57,1582.50) scale(0.8000,1)" font-size="30.71">162</text>
<text transform="translate(566.69,1582.50) scale(0.8000,1)" font-size="30.71">163</text>
<text transform="translate(677.81,1582.50) scale(0.8000,1)" font-size="30.71">164</text>
<text transform="translate(789.17,1582.50) scale(0.8000,1)" font-size="30.71">165</text>
<text transform="translate(900.41,1582.50) scale(0.8000,1)" font-size="30.71">166</text>
<text transform="translate(52.00,1214.29) rotate(-90) scale(0.8794,1)" font-family='"Liberation Serif", "Times New Roman", serif' font-size="39.39">C/S</text>
<text transform="translate(446.57,1637.80) scale(0.7653,1)" font-family='"Liberation Serif", "Times New Roman", serif' font-size="36.03" fill="#000">Binding energy</text>
<text transform="translate(820.10,1517.80) scale(0.8951,1)" font-family='"Liberation Sans", Arial, sans-serif' font-size="78.33" fill="#ec1c24">c</text>
<clipPath id="cd"><rect x="1090.3" y="798.5" width="788.8" height="707.6"/></clipPath>
<g clip-path="url(#cd)">
<polyline points="1072.9,1424.3 1095.4,1424.2 1117.9,1424.0 1140.4,1423.8 1162.9,1423.6 1185.5,1423.3 1208.0,1423.1 1230.5,1422.8 1253.0,1422.5 1275.5,1422.2 1298.1,1421.9 1320.6,1421.6 1343.1,1421.2 1365.6,1420.6 1388.1,1419.9 1410.7,1418.6 1433.2,1416.7 1455.7,1413.4 1478.2,1408.8 1500.7,1403.5 1523.3,1397.3 1545.8,1390.7 1568.3,1383.5 1590.8,1376.3 1613.3,1370.3 1635.9,1364.8 1658.4,1359.4 1680.9,1353.8 1703.4,1348.8 1725.9,1344.6 1748.5,1340.9 1771.0,1337.6 1793.5,1334.7 1816.0,1331.9 1838.5,1329.4 1861.1,1327.3 1883.6,1325.5 1906.1,1324.2" fill="none" stroke="#e8302a" stroke-width="1.8" stroke-linejoin="miter" stroke-miterlimit="4"/>
<polyline points="1072.9,1424.3 1095.4,1424.2 1117.9,1424.0 1140.4,1423.8 1162.9,1423.6 1185.5,1423.3 1208.0,1423.1 1230.5,1422.7 1253.0,1422.0 1275.5,1420.6 1298.1,1417.3 1320.6,1410.0 1343.1,1395.0 1365.6,1367.9 1388.1,1325.2 1410.7,1266.5 1433.2,1198.5 1455.7,1134.0 1478.2,1089.3 1500.7,1077.0 1523.3,1099.4 1545.8,1148.0 1568.3,1206.8 1590.8,1261.4 1613.3,1303.6 1635.9,1330.2 1658.4,1343.4 1680.9,1347.2 1703.4,1346.3 1725.9,1343.8 1748.5,1340.6 1771.0,1337.5 1793.5,1334.6 1816.0,1331.9 1838.5,1329.4 1861.1,1327.3 1883.6,1325.5 1906.1,1324.2" fill="none" stroke="#0b7a3b" stroke-width="2.0" stroke-linejoin="miter" stroke-miterlimit="4"/>
<polyline points="1072.9,1424.3 1095.4,1424.2 1117.9,1424.0 1140.4,1423.8 1162.9,1423.6 1185.5,1423.3 1208.0,1423.1 1230.5,1422.8 1253.0,1422.5 1275.5,1422.2 1298.1,1421.9 1320.6,1421.5 1343.1,1421.0 1365.6,1420.0 1388.1,1418.0 1410.7,1413.7 1433.2,1405.5 1455.7,1390.7 1478.2,1367.7 1500.7,1337.0 1523.3,1301.2 1545.8,1266.9 1568.3,1241.2 1590.8,1230.4 1613.3,1236.9 1635.9,1256.0 1658.4,1280.2 1680.9,1302.5 1703.4,1319.0 1725.9,1329.2 1748.5,1333.8 1771.0,1334.7 1793.5,1333.6 1816.0,1331.6 1838.5,1329.3 1861.1,1327.2 1883.6,1325.5 1906.1,1324.2" fill="none" stroke="#3552ab" stroke-width="2.0" stroke-linejoin="miter" stroke-miterlimit="4"/>
<polyline points="1072.9,1424.3 1095.4,1424.2 1117.9,1424.0 1140.4,1423.8 1162.9,1423.6 1185.5,1423.3 1208.0,1423.1 1230.5,1422.8 1253.0,1422.5 1275.5,1422.2 1298.1,1421.9 1320.6,1421.6 1343.1,1421.2 1365.6,1420.6 1388.1,1419.8 1410.7,1418.4 1433.2,1416.0 1455.7,1411.4 1478.2,1403.6 1500.7,1391.1 1523.3,1370.8 1545.8,1340.1 1568.3,1297.6 1590.8,1246.4 1613.3,1195.3 1635.9,1154.6 1658.4,1134.3 1680.9,1139.1 1703.4,1166.2 1725.9,1206.2 1748.5,1247.4 1771.0,1281.3 1793.5,1304.5 1816.0,1317.5 1838.5,1323.3 1861.1,1324.9 1883.6,1324.7 1906.1,1323.9" fill="none" stroke="#b84aa8" stroke-width="2.0" stroke-linejoin="miter" stroke-miterlimit="4"/>
<polyline points="1072.9,1424.3 1095.4,1424.2 1117.9,1424.0 1140.4,1423.8 1162.9,1423.6 1185.5,1423.3 1208.0,1423.1 1230.5,1422.8 1253.0,1422.5 1275.5,1422.2 1298.1,1421.9 1320.6,1421.6 1343.1,1421.2 1365.6,1420.6 1388.1,1419.9 1410.7,1418.6 1433.2,1416.7 1455.7,1413.4 1478.2,1408.8 1500.7,1403.5 1523.3,1397.3 1545.8,1390.5 1568.3,1382.7 1590.8,1374.2 1613.3,1365.5 1635.9,1355.0 1658.4,1341.7 1680.9,1325.5 1703.4,1308.6 1725.9,1294.2 1748.5,1284.8 1771.0,1282.3 1793.5,1286.4 1816.0,1294.6 1838.5,1303.9 1861.1,1311.8 1883.6,1317.1 1906.1,1320.2" fill="none" stroke="#1b1a72" stroke-width="2.0" stroke-linejoin="miter" stroke-miterlimit="4"/>
<polyline points="1072.9,1434.0 1095.4,1435.0 1117.9,1411.7 1140.4,1422.8 1162.9,1417.5 1185.5,1428.9 1208.0,1431.5 1230.5,1428.0 1253.0,1415.4 1275.5,1440.3 1298.1,1442.1 1320.6,1425.4 1343.1,1392.0 1365.6,1362.2 1388.1,1327.1 1410.7,1266.0 1433.2,1176.5 1455.7,1109.4 1478.2,1053.6 1500.7,986.0 1523.3,992.5 1545.8,960.9 1568.3,969.3 1590.8,1000.1 1613.3,978.5 1635.9,977.2 1658.4,997.8 1680.9,1065.0 1703.4,1115.1 1725.9,1109.5 1748.5,1173.0 1771.0,1223.1 1793.5,1245.9 1816.0,1268.0 1838.5,1288.5 1861.1,1317.5 1883.6,1319.5" fill="none" stroke="#000" stroke-width="2.5" stroke-linejoin="miter" stroke-miterlimit="4"/>
</g>
<text transform="translate(1264.08,1057.30) scale(0.8516,1)" font-family='"Liberation Serif", "Times New Roman", serif' font-size="34.39">2p</text>
<text transform="translate(1292.40,1070.50) scale(1.0087,1)" font-family='"Liberation Serif", "Times New Roman", serif' font-size="17.73">3/2</text>
<text transform="translate(1313.69,1057.30) scale(0.8220,1)" font-family='"Liberation Serif", "Times New Roman", serif' font-size="34.39">=162.6 eV</text>
<line x1="1370.8" y1="1064.6" x2="1452.0" y2="1090.8" stroke="#000" stroke-width="2.2"/>
<polygon points="1466.3,1095.4 1448.4,1095.4 1451.8,1084.9" fill="#000"/>
<text transform="translate(1619.58,1048.00) scale(0.8332,1)" font-family='"Liberation Serif", "Times New Roman", serif' font-size="35.15">2p</text>
<text transform="translate(1647.84,1061.50) scale(0.9799,1)" font-family='"Liberation Serif", "Times New Roman", serif' font-size="19.55">3/2</text>
<text transform="translate(1670.70,1048.00) scale(0.7947,1)" font-family='"Liberation Serif", "Times New Roman", serif' font-size="35.15">=164.1eV</text>
<line x1="1703.5" y1="1066.8" x2="1670.2" y2="1109.5" stroke="#000" stroke-width="2.2"/>
<polygon points="1661.0,1121.3 1667.1,1104.5 1675.8,1111.3" fill="#000"/>
<text transform="translate(1482.49,1204.60) scale(0.8096,1)" font-family='"Liberation Serif", "Times New Roman", serif' font-size="35.91">2p</text>
<text transform="translate(1510.57,1216.90) scale(1.0647,1)" font-family='"Liberation Serif", "Times New Roman", serif' font-size="17.27">3/2</text>
<text transform="translate(1532.50,1204.60) scale(0.7800,1)" font-family='"Liberation Serif", "Times New Roman", serif' font-size="35.91">=163.5eV</text>
<line x1="1506.7" y1="1228.3" x2="1533.6" y2="1258.4" stroke="#000" stroke-width="2.2"/>
<polygon points="1543.6,1269.6 1528.2,1260.6 1536.4,1253.3" fill="#000"/>
<text transform="translate(1720.90,1188.10) scale(0.8316,1)" font-family='"Liberation Serif", "Times New Roman", serif' font-size="34.70">2p</text>
<text transform="translate(1748.79,1201.80) scale(0.9164,1)" font-family='"Liberation Serif", "Times New Roman", serif' font-size="19.70">3/2</text>
<text transform="translate(1770.29,1188.10) scale(0.8100,1)" font-family='"Liberation Serif", "Times New Roman", serif' font-size="34.70">=165.2 eV</text>
<line x1="1799.1" y1="1207.1" x2="1765.3" y2="1259.9" stroke="#000" stroke-width="2.2"/>
<polygon points="1757.2,1272.5 1761.7,1255.2 1771.0,1261.2" fill="#000"/>
<rect x="1090.3" y="798.5" width="788.8" height="707.6" fill="none" stroke="#000" stroke-width="2.5"/>
<line x1="1090.3" y1="1506.1" x2="1090.3" y2="1494.1" stroke="#000" stroke-width="2.38"/>
<line x1="1203.0" y1="1506.1" x2="1203.0" y2="1494.1" stroke="#000" stroke-width="2.38"/>
<line x1="1315.7" y1="1506.1" x2="1315.7" y2="1494.1" stroke="#000" stroke-width="2.38"/>
<line x1="1428.4" y1="1506.1" x2="1428.4" y2="1494.1" stroke="#000" stroke-width="2.38"/>
<line x1="1541.0" y1="1506.1" x2="1541.0" y2="1494.1" stroke="#000" stroke-width="2.38"/>
<line x1="1653.7" y1="1506.1" x2="1653.7" y2="1494.1" stroke="#000" stroke-width="2.38"/>
<line x1="1766.4" y1="1506.1" x2="1766.4" y2="1494.1" stroke="#000" stroke-width="2.38"/>
<line x1="1879.1" y1="1506.1" x2="1879.1" y2="1494.1" stroke="#000" stroke-width="2.38"/>
<line x1="1090.3" y1="1464.5" x2="1102.3" y2="1464.5" stroke="#000" stroke-width="2.38"/>
<line x1="1090.3" y1="1381.2" x2="1102.3" y2="1381.2" stroke="#000" stroke-width="2.38"/>
<line x1="1090.3" y1="1298.0" x2="1102.3" y2="1298.0" stroke="#000" stroke-width="2.38"/>
<line x1="1090.3" y1="1214.7" x2="1102.3" y2="1214.7" stroke="#000" stroke-width="2.38"/>
<line x1="1090.3" y1="1131.5" x2="1102.3" y2="1131.5" stroke="#000" stroke-width="2.38"/>
<line x1="1090.3" y1="1048.2" x2="1102.3" y2="1048.2" stroke="#000" stroke-width="2.38"/>
<line x1="1090.3" y1="965.0" x2="1102.3" y2="965.0" stroke="#000" stroke-width="2.38"/>
<line x1="1090.3" y1="881.7" x2="1102.3" y2="881.7" stroke="#000" stroke-width="2.38"/>
<line x1="1090.3" y1="798.5" x2="1102.3" y2="798.5" stroke="#000" stroke-width="2.38"/>
<text transform="translate(1026.79,1472.73) scale(0.8000,1)" font-size="28.71">1200</text>
<text transform="translate(1026.79,1389.48) scale(0.8000,1)" font-size="28.71">1400</text>
<text transform="translate(1026.79,1306.23) scale(0.8000,1)" font-size="28.71">1600</text>
<text transform="translate(1026.79,1222.99) scale(0.8000,1)" font-size="28.71">1800</text>
<text transform="translate(1026.79,1139.74) scale(0.8000,1)" font-size="28.71">2000</text>
<text transform="translate(1026.79,1056.49) scale(0.8000,1)" font-size="28.71">2200</text>
<text transform="translate(1026.79,973.24) scale(0.8000,1)" font-size="28.71">2400</text>
<text transform="translate(1026.79,890.00) scale(0.8000,1)" font-size="28.71">2600</text>
<text transform="translate(1026.79,806.75) scale(0.8000,1)" font-size="28.71">2800</text>
<text transform="translate(1071.43,1544.80) scale(0.8000,1)" font-size="28.71">159</text>
<text transform="translate(1184.00,1544.80) scale(0.8000,1)" font-size="28.71">160</text>
<text transform="translate(1296.80,1544.80) scale(0.8000,1)" font-size="28.71">161</text>
<text transform="translate(1409.55,1544.80) scale(0.8000,1)" font-size="28.71">162</text>
<text transform="translate(1522.12,1544.80) scale(0.8000,1)" font-size="28.71">163</text>
<text transform="translate(1634.69,1544.80) scale(0.8000,1)" font-size="28.71">164</text>
<text transform="translate(1747.49,1544.80) scale(0.8000,1)" font-size="28.71">165</text>
<text transform="translate(1860.17,1544.80) scale(0.8000,1)" font-size="28.71">166</text>
<text transform="translate(990.10,1186.04) rotate(-90) scale(0.8825,1)" font-family='"Liberation Serif", "Times New Roman", serif' font-size="37.88">C/S</text>
<text transform="translate(1413.36,1592.60) scale(0.7799,1)" font-family='"Liberation Serif", "Times New Roman", serif' font-size="35.88" fill="#000">Binding energy</text>
<text transform="translate(1776.82,1490.70) scale(0.9597,1)" font-family='"Liberation Sans", Arial, sans-serif' font-size="82.90" fill="#ec1c24">d</text>
<clipPath id="ce"><rect x="124.5" y="1692.2" width="801.9" height="686.2"/></clipPath>
<g clip-path="url(#ce)">
<polyline points="107.7,2314.4 130.5,2314.2 153.4,2313.9 176.3,2313.5 199.1,2313.1 222.0,2312.7 244.9,2312.2 267.8,2311.9 290.6,2311.6 313.5,2311.4 336.4,2311.2 359.2,2311.1 382.1,2310.9 405.0,2310.1 427.8,2309.1 450.7,2307.9 473.6,2304.6 496.5,2301.3 519.3,2296.6 542.2,2291.2 565.1,2285.3 587.9,2278.4 610.8,2271.4 633.7,2264.5 656.5,2257.7 679.4,2251.3 702.3,2245.8 725.1,2240.0 748.0,2235.2 770.9,2230.7 793.8,2226.8 816.6,2223.5 839.5,2220.5 862.4,2217.8 885.2,2215.5 908.1,2213.5 931.0,2211.9 953.9,2211.0" fill="none" stroke="#e8302a" stroke-width="1.8" stroke-linejoin="miter" stroke-miterlimit="4"/>
<polyline points="107.7,2314.4 130.5,2314.2 153.4,2313.9 176.3,2313.5 199.1,2313.1 222.0,2312.7 244.9,2312.2 267.8,2311.9 290.6,2311.6 313.5,2311.4 336.4,2311.2 359.2,2311.1 382.1,2310.6 405.0,2309.4 427.8,2306.6 450.7,2301.1 473.6,2287.9 496.5,2264.7 519.3,2225.6 542.2,2168.9 565.1,2098.3 587.9,2024.7 610.8,1966.0 633.7,1938.4 656.5,1948.7 679.4,1991.5 702.3,2052.1 725.1,2111.7 748.0,2159.8 770.9,2191.5 793.8,2208.7 816.6,2216.0 839.5,2217.8 862.4,2217.0 885.2,2215.2 908.1,2213.4 931.0,2211.9 953.9,2210.9" fill="none" stroke="#b84aa8" stroke-width="2.0" stroke-linejoin="miter" stroke-miterlimit="4"/>
<polyline points="107.7,2314.4 130.5,2314.2 153.4,2313.9 176.3,2313.5 199.1,2313.1 222.0,2312.7 244.9,2312.2 267.8,2311.9 290.6,2311.6 313.5,2311.4 336.4,2311.2 359.2,2311.1 382.1,2310.9 405.0,2310.1 427.8,2309.1 450.7,2307.8 473.6,2304.3 496.5,2300.3 519.3,2293.8 542.2,2284.3 565.1,2269.9 587.9,2248.1 610.8,2218.7 633.7,2183.3 656.5,2146.9 679.4,2117.4 702.3,2102.6 725.1,2104.4 748.0,2121.4 770.9,2146.3 793.8,2171.3 816.6,2191.2 839.5,2203.9 862.4,2210.3 885.2,2212.4 908.1,2212.4 931.0,2211.6 953.9,2210.9" fill="none" stroke="#0b7a3b" stroke-width="2.0" stroke-linejoin="miter" stroke-miterlimit="4"/>
<polyline points="107.7,2314.4 130.5,2314.2 153.4,2313.9 176.3,2313.5 199.1,2313.1 222.0,2312.7 244.9,2312.2 267.8,2311.9 290.6,2311.6 313.5,2311.4 336.4,2311.2 359.2,2311.1 382.1,2310.9 405.0,2310.1 427.8,2309.1 450.7,2307.9 473.6,2304.6 496.5,2301.3 519.3,2296.6 542.2,2291.2 565.1,2285.3 587.9,2278.4 610.8,2271.3 633.7,2264.3 656.5,2256.3 679.4,2242.4 702.3,2212.3 725.1,2163.6 748.0,2130.4 770.9,2144.2 793.8,2183.8 816.6,2210.6 839.5,2218.2 862.4,2217.6 885.2,2215.4 908.1,2213.5 931.0,2211.9 953.9,2211.0" fill="none" stroke="#5b3fa5" stroke-width="2.0" stroke-linejoin="miter" stroke-miterlimit="4"/>
<polyline points="107.7,2314.4 130.5,2314.2 153.4,2313.9 176.3,2313.5 199.1,2313.1 222.0,2312.7 244.9,2312.2 267.8,2311.9 290.6,2311.6 313.5,2311.4 336.4,2311.2 359.2,2311.1 382.1,2310.9 405.0,2310.1 427.8,2309.1 450.7,2307.9 473.6,2304.6 496.5,2301.3 519.3,2296.6 542.2,2291.2 565.1,2285.3 587.9,2278.4 610.8,2271.4 633.7,2264.5 656.5,2257.7 679.4,2251.3 702.3,2245.8 725.1,2240.0 748.0,2234.6 770.9,2218.2 793.8,2188.3 816.6,2206.6 839.5,2219.5 862.4,2217.8 885.2,2215.5 908.1,2213.5 931.0,2211.9 953.9,2211.0" fill="none" stroke="#7a1a82" stroke-width="2.0" stroke-linejoin="miter" stroke-miterlimit="4"/>
<polyline points="107.7,2314.4 130.5,2314.2 153.4,2313.9 176.3,2313.5 199.1,2313.1 222.0,2312.7 244.9,2312.2 267.8,2311.8 290.6,2311.2 313.5,2310.1 336.4,2307.3 359.2,2300.2 382.1,2284.8 405.0,2254.9 427.8,2206.1 450.7,2138.9 473.6,2060.4 496.5,1990.4 519.3,1948.3 542.2,1948.1 565.1,1990.0 587.9,2056.6 610.8,2125.9 633.7,2181.2 656.5,2216.1 679.4,2233.1 702.3,2238.9 725.1,2237.7 748.0,2234.5 770.9,2230.6 793.8,2226.8 816.6,2223.5 839.5,2220.5 862.4,2217.8 885.2,2215.5 908.1,2213.5 931.0,2211.9 953.9,2211.0" fill="none" stroke="#1b1a72" stroke-width="2.0" stroke-linejoin="miter" stroke-miterlimit="4"/>
<polyline points="107.7,2314.4 130.5,2314.2 153.4,2313.9 176.3,2313.5 199.1,2313.1 222.0,2312.7 244.9,2312.2 267.8,2311.9 290.6,2311.6 313.5,2311.4 336.4,2311.2 359.2,2311.1 382.1,2310.9 405.0,2310.1 427.8,2309.1 450.7,2307.9 473.6,2304.6 496.5,2301.3 519.3,2296.6 542.2,2291.2 565.1,2285.3 587.9,2278.4 610.8,2271.4 633.7,2264.5 656.5,2257.7 679.4,2251.3 702.3,2245.8 725.1,2240.0 748.0,2235.2 770.9,2230.7 793.8,2222.6 816.6,2166.9 839.5,2102.9 862.4,2184.1 885.2,2214.2 908.1,2213.5 931.0,2211.9 953.9,2211.0" fill="none" stroke="#3552ab" stroke-width="2.0" stroke-linejoin="miter" stroke-miterlimit="4"/>
<polyline points="107.7,2314.4 130.5,2314.2 153.4,2313.9 176.3,2313.5 199.1,2313.1 222.0,2312.7 244.9,2312.2 267.8,2311.9 290.6,2311.6 313.5,2311.4 336.4,2311.2 359.2,2311.1 382.1,2310.9 405.0,2310.1 427.8,2309.1 450.7,2307.9 473.6,2304.6 496.5,2301.3 519.3,2296.6 542.2,2291.2 565.1,2285.3 587.9,2278.4 610.8,2271.4 633.7,2264.5 656.5,2257.7 679.4,2251.3" fill="none" stroke="#7a1a82" stroke-width="1.8" stroke-linejoin="miter" stroke-miterlimit="4"/>
<polyline points="107.7,2329.0 130.5,2310.0 153.4,2329.3 176.3,2315.3 199.1,2273.4 222.0,2291.0 244.9,2290.7 267.8,2307.3 290.6,2301.7 313.5,2309.1 336.4,2321.4 359.2,2281.5 382.1,2278.4 405.0,2252.9 427.8,2193.0 450.7,2118.0 473.6,2030.0 496.5,1960.0 519.3,1858.4 542.2,1803.9 565.1,1808.8 587.9,1770.5 610.8,1769.1 633.7,1774.9 656.5,1775.8 679.4,1846.1 702.3,1855.7 725.1,1900.5 748.0,1936.5 770.9,2007.6 793.8,2063.0 816.6,2084.9 839.5,2071.7 862.4,2174.5 885.2,2191.7 908.1,2192.9 931.0,2215.0" fill="none" stroke="#000" stroke-width="2.5" stroke-linejoin="miter" stroke-miterlimit="4"/>
</g>
<text transform="translate(663.27,1756.90) scale(0.8573,1)" font-family='"Liberation Serif", "Times New Roman", serif' font-size="34.55">2p</text>
<text transform="translate(691.89,1770.10) scale(0.9640,1)" font-family='"Liberation Serif", "Times New Roman", serif' font-size="18.64">3/2</text>
<text transform="translate(713.26,1756.90) scale(0.8351,1)" font-family='"Liberation Serif", "Times New Roman", serif' font-size="34.55">=163.5 eV</text>
<line x1="722.2" y1="1787.6" x2="638.4" y2="1918.0" stroke="#000" stroke-width="2.2"/>
<polygon points="630.3,1930.6 634.9,1913.3 644.1,1919.3" fill="#000"/>
<text transform="translate(303.05,1866.40) scale(0.8784,1)" font-family='"Liberation Serif", "Times New Roman", serif' font-size="34.09">2p</text>
<text transform="translate(332.00,1879.30) scale(0.9595,1)" font-family='"Liberation Serif", "Times New Roman", serif' font-size="18.64">3/2</text>
<text transform="translate(353.26,1866.40) scale(0.8420,1)" font-family='"Liberation Serif", "Times New Roman", serif' font-size="34.09">=162.5 eV</text>
<line x1="403.3" y1="1882.8" x2="485.1" y2="1940.2" stroke="#000" stroke-width="2.2"/>
<polygon points="497.4,1948.8 480.3,1943.5 486.6,1934.5" fill="#000"/>
<text transform="translate(765.96,1888.60) scale(0.8959,1)" font-family='"Liberation Serif", "Times New Roman", serif' font-size="33.18">2p</text>
<text transform="translate(794.70,1902.00) scale(0.9441,1)" font-family='"Liberation Serif", "Times New Roman", serif' font-size="18.94">3/2</text>
<text transform="translate(815.97,1888.60) scale(0.8636,1)" font-family='"Liberation Serif", "Times New Roman", serif' font-size="33.18">=164.1 eV</text>
<line x1="778.6" y1="1898.8" x2="726.0" y2="2074.6" stroke="#000" stroke-width="2.2"/>
<polygon points="721.7,2089.0 721.3,2071.1 731.8,2074.3" fill="#000"/>
<text transform="translate(812.58,1998.50) scale(0.8950,1)" font-family='"Liberation Serif", "Times New Roman", serif' font-size="32.73">2p</text>
<text transform="translate(840.86,2012.00) scale(1.0004,1)" font-family='"Liberation Serif", "Times New Roman", serif' font-size="18.64">3/2</text>
<text transform="translate(863.06,1998.50) scale(0.8830,1)" font-family='"Liberation Serif", "Times New Roman", serif' font-size="32.73">=164.5 eV</text>
<line x1="814.8" y1="1992.7" x2="765.4" y2="2105.5" stroke="#000" stroke-width="2.2"/>
<polygon points="759.4,2119.2 761.2,2101.4 771.3,2105.8" fill="#000"/>
<text transform="translate(781.87,2310.60) scale(0.8885,1)" font-family='"Liberation Serif", "Times New Roman", serif' font-size="33.33">2p</text>
<text transform="translate(810.46,2323.40) scale(1.0340,1)" font-family='"Liberation Serif", "Times New Roman", serif' font-size="18.03">3/2</text>
<text transform="translate(832.67,2310.60) scale(0.8554,1)" font-family='"Liberation Serif", "Times New Roman", serif' font-size="33.33">=165.3 eV</text>
<line x1="828.8" y1="2275.5" x2="834.3" y2="2165.7" stroke="#000" stroke-width="2.2"/>
<polygon points="835.0,2150.7 839.6,2168.0 828.7,2167.4" fill="#000"/>
<rect x="124.5" y="1692.2" width="801.9" height="686.2" fill="none" stroke="#000" stroke-width="2.5"/>
<line x1="124.5" y1="2378.4" x2="124.5" y2="2365.9" stroke="#000" stroke-width="2.38"/>
<line x1="239.1" y1="2378.4" x2="239.1" y2="2365.9" stroke="#000" stroke-width="2.38"/>
<line x1="353.6" y1="2378.4" x2="353.6" y2="2365.9" stroke="#000" stroke-width="2.38"/>
<line x1="468.2" y1="2378.4" x2="468.2" y2="2365.9" stroke="#000" stroke-width="2.38"/>
<line x1="582.7" y1="2378.4" x2="582.7" y2="2365.9" stroke="#000" stroke-width="2.38"/>
<line x1="697.3" y1="2378.4" x2="697.3" y2="2365.9" stroke="#000" stroke-width="2.38"/>
<line x1="811.8" y1="2378.4" x2="811.8" y2="2365.9" stroke="#000" stroke-width="2.38"/>
<line x1="926.4" y1="2378.4" x2="926.4" y2="2365.9" stroke="#000" stroke-width="2.38"/>
<line x1="124.5" y1="2321.2" x2="137.0" y2="2321.2" stroke="#000" stroke-width="2.38"/>
<line x1="124.5" y1="2206.8" x2="137.0" y2="2206.8" stroke="#000" stroke-width="2.38"/>
<line x1="124.5" y1="2092.5" x2="137.0" y2="2092.5" stroke="#000" stroke-width="2.38"/>
<line x1="124.5" y1="1978.1" x2="137.0" y2="1978.1" stroke="#000" stroke-width="2.38"/>
<line x1="124.5" y1="1863.8" x2="137.0" y2="1863.8" stroke="#000" stroke-width="2.38"/>
<line x1="124.5" y1="1749.4" x2="137.0" y2="1749.4" stroke="#000" stroke-width="2.38"/>
<text transform="translate(61.33,2329.22) scale(0.8100,1)" font-size="28.00">1200</text>
<text transform="translate(61.33,2214.85) scale(0.8100,1)" font-size="28.00">1400</text>
<text transform="translate(61.33,2100.48) scale(0.8100,1)" font-size="28.00">1600</text>
<text transform="translate(61.33,1986.12) scale(0.8100,1)" font-size="28.00">1800</text>
<text transform="translate(61.33,1871.75) scale(0.8100,1)" font-size="28.00">2000</text>
<text transform="translate(61.33,1757.38) scale(0.8100,1)" font-size="28.00">2200</text>
<text transform="translate(105.88,2415.50) scale(0.8100,1)" font-size="28.00">159</text>
<text transform="translate(220.32,2415.50) scale(0.8100,1)" font-size="28.00">160</text>
<text transform="translate(334.99,2415.50) scale(0.8100,1)" font-size="28.00">161</text>
<text transform="translate(449.61,2415.50) scale(0.8100,1)" font-size="28.00">162</text>
<text transform="translate(564.05,2415.50) scale(0.8100,1)" font-size="28.00">163</text>
<text transform="translate(678.49,2415.50) scale(0.8100,1)" font-size="28.00">164</text>
<text transform="translate(793.16,2415.50) scale(0.8100,1)" font-size="28.00">165</text>
<text transform="translate(907.72,2415.50) scale(0.8100,1)" font-size="28.00">166</text>
<text transform="translate(38.80,2068.43) rotate(-90) scale(0.9023,1)" font-family='"Liberation Serif", "Times New Roman", serif' font-size="36.97">C/S</text>
<text transform="translate(492.35,2469.90) scale(0.8134,1)" font-family='"Liberation Serif", "Times New Roman", serif' font-size="34.96" fill="#000">Binding energy</text>
<text transform="translate(824.14,1842.60) scale(0.9755,1)" font-family='"Liberation Sans", Arial, sans-serif' font-size="78.52" fill="#ec1c24">e</text>
<clipPath id="cf"><rect x="1099.8" y="1694.0" width="780.4" height="681.6"/></clipPath>
<g clip-path="url(#cf)">
<polyline points="1063.6,2294.3 1085.9,2294.1 1108.2,2293.9 1130.5,2293.7 1152.8,2293.4 1175.1,2293.1 1197.4,2292.8 1219.7,2292.4 1242.0,2292.1 1264.3,2291.8 1286.6,2291.5 1308.9,2291.3 1331.2,2290.9 1353.5,2290.5 1375.8,2290.0 1398.1,2289.2 1420.4,2287.5 1442.7,2284.9 1465.0,2281.4 1487.3,2276.7 1509.6,2270.1 1531.9,2264.4 1554.2,2259.5 1576.5,2254.8 1598.8,2249.8 1621.1,2244.2 1643.4,2238.6 1665.7,2233.1 1688.0,2228.4 1710.3,2224.4 1732.6,2220.8 1754.9,2217.6 1777.2,2215.2 1799.5,2213.1 1821.8,2211.3 1844.1,2209.8 1866.4,2208.5 1888.7,2207.6 1911.0,2207.0" fill="none" stroke="#e8302a" stroke-width="1.8" stroke-linejoin="miter" stroke-miterlimit="4"/>
<polyline points="1063.6,2294.3 1085.9,2294.1 1108.2,2293.9 1130.5,2293.7 1152.8,2293.4 1175.1,2293.1 1197.4,2292.7 1219.7,2292.3 1242.0,2291.8 1264.3,2290.7 1286.6,2288.1 1308.9,2282.0 1331.2,2268.8 1353.5,2243.2 1375.8,2200.1 1398.1,2137.3 1420.4,2059.4 1442.7,1980.3 1465.0,1919.6 1487.3,1894.6 1509.6,1911.1 1531.9,1964.6 1554.2,2036.7 1576.5,2107.6 1598.8,2163.3 1621.1,2199.0 1643.4,2217.6 1665.7,2224.5 1688.0,2225.2 1710.3,2223.3 1732.6,2220.5 1754.9,2217.6 1777.2,2215.1 1799.5,2213.1 1821.8,2211.3 1844.1,2209.8 1866.4,2208.5 1888.7,2207.6 1911.0,2207.0" fill="none" stroke="#0b7a3b" stroke-width="2.0" stroke-linejoin="miter" stroke-miterlimit="4"/>
<polyline points="1063.6,2294.3 1085.9,2294.1 1108.2,2293.9 1130.5,2293.7 1152.8,2293.4 1175.1,2293.1 1197.4,2292.8 1219.7,2292.4 1242.0,2292.1 1264.3,2291.8 1286.6,2291.5 1308.9,2291.3 1331.2,2290.9 1353.5,2290.4 1375.8,2289.6 1398.1,2287.8 1420.4,2283.5 1442.7,2274.8 1465.0,2258.6 1487.3,2231.0 1509.6,2188.3 1531.9,2134.3 1554.2,2075.7 1576.5,2023.8 1598.8,1991.7 1621.1,1987.9 1643.4,2012.3 1665.7,2055.5 1688.0,2104.4 1710.3,2147.4 1732.6,2178.3 1754.9,2196.8 1777.2,2206.1 1799.5,2209.6 1821.8,2210.1 1844.1,2209.4 1866.4,2208.4 1888.7,2207.6 1911.0,2207.0" fill="none" stroke="#b84aa8" stroke-width="2.0" stroke-linejoin="miter" stroke-miterlimit="4"/>
<polyline points="1063.6,2294.3 1085.9,2294.1 1108.2,2293.9 1130.5,2293.7 1152.8,2293.4 1175.1,2293.1 1197.4,2292.8 1219.7,2292.4 1242.0,2292.1 1264.3,2291.8 1286.6,2291.5 1308.9,2291.3 1331.2,2290.9 1353.5,2290.5 1375.8,2289.9 1398.1,2288.9 1420.4,2286.5 1442.7,2282.3 1465.0,2275.4 1487.3,2264.5 1509.6,2248.0 1531.9,2228.8 1554.2,2208.7 1576.5,2190.6 1598.8,2177.7 1621.1,2172.5 1643.4,2175.4 1665.7,2183.7 1688.0,2194.1 1710.3,2203.3 1732.6,2209.2 1754.9,2212.1 1777.2,2212.8 1799.5,2212.2 1821.8,2211.0 1844.1,2209.7 1866.4,2208.5 1888.7,2207.6 1911.0,2207.0" fill="none" stroke="#3552ab" stroke-width="2.0" stroke-linejoin="miter" stroke-miterlimit="4"/>
<polyline points="1063.6,2294.3 1085.9,2294.1 1108.2,2293.9 1130.5,2293.7 1152.8,2293.4 1175.1,2293.1 1197.4,2292.8 1219.7,2292.4 1242.0,2292.1 1264.3,2291.8 1286.6,2291.5 1308.9,2291.3 1331.2,2290.9 1353.5,2290.5 1375.8,2290.0 1398.1,2289.2 1420.4,2287.5 1442.7,2284.9 1465.0,2281.3 1487.3,2276.5 1509.6,2269.2 1531.9,2262.0 1554.2,2253.3 1576.5,2240.9 1598.8,2222.2 1621.1,2195.4 1643.4,2161.7 1665.7,2125.1 1688.0,2093.1 1710.3,2073.4 1732.6,2070.7 1754.9,2084.7 1777.2,2110.2 1799.5,2139.2 1821.8,2165.0 1844.1,2183.9 1866.4,2195.6 1888.7,2201.9 1911.0,2204.7" fill="none" stroke="#1b1a72" stroke-width="2.0" stroke-linejoin="miter" stroke-miterlimit="4"/>
<polyline points="1063.6,2296.0 1085.9,2291.7 1108.2,2281.5 1130.5,2287.3 1152.8,2304.4 1175.1,2298.2 1197.4,2309.6 1219.7,2305.3 1242.0,2316.7 1264.3,2290.9 1286.6,2318.4 1308.9,2276.8 1331.2,2303.0 1353.5,2248.0 1375.8,2193.5 1398.1,2146.3 1420.4,2048.0 1442.7,1978.0 1465.0,1874.9 1487.3,1807.8 1509.6,1824.8 1531.9,1826.0 1554.2,1795.7 1576.5,1747.2 1598.8,1785.9 1621.1,1831.0 1643.4,1828.0 1665.7,1890.4 1688.0,1929.0 1710.3,1962.3 1732.6,2020.5 1754.9,2041.8 1777.2,2100.5 1799.5,2133.6 1821.8,2156.4 1844.1,2171.3 1866.4,2206.5 1888.7,2225.0" fill="none" stroke="#000" stroke-width="2.5" stroke-linejoin="miter" stroke-miterlimit="4"/>
</g>
<text transform="translate(1230.60,1830.40) scale(0.8656,1)" font-family='"Liberation Serif", "Times New Roman", serif' font-size="33.33">2p</text>
<text transform="translate(1258.51,1843.40) scale(0.9536,1)" font-family='"Liberation Serif", "Times New Roman", serif' font-size="18.48">3/2</text>
<text transform="translate(1279.49,1830.40) scale(0.8449,1)" font-family='"Liberation Serif", "Times New Roman", serif' font-size="33.33">=162.5eV</text>
<line x1="1351.2" y1="1834.3" x2="1448.7" y2="1893.1" stroke="#000" stroke-width="2.2"/>
<polygon points="1461.5,1900.8 1444.1,1896.7 1449.8,1887.3" fill="#000"/>
<text transform="translate(1670.79,1795.50) scale(0.8794,1)" font-family='"Liberation Serif", "Times New Roman", serif' font-size="33.18">2p</text>
<text transform="translate(1698.99,1808.70) scale(1.0401,1)" font-family='"Liberation Serif", "Times New Roman", serif' font-size="17.27">3/2</text>
<text transform="translate(1720.40,1795.50) scale(0.8441,1)" font-family='"Liberation Serif", "Times New Roman", serif' font-size="33.18">=163.6 eV</text>
<line x1="1737.6" y1="1817.5" x2="1635.7" y2="1969.5" stroke="#000" stroke-width="2.2"/>
<polygon points="1627.3,1982.0 1632.2,1964.8 1641.3,1970.9" fill="#000"/>
<text transform="translate(1711.80,1958.20) scale(0.8617,1)" font-family='"Liberation Serif", "Times New Roman", serif' font-size="33.48">2p</text>
<text transform="translate(1739.69,1971.30) scale(0.9686,1)" font-family='"Liberation Serif", "Times New Roman", serif' font-size="18.64">3/2</text>
<text transform="translate(1761.21,1958.20) scale(0.8279,1)" font-family='"Liberation Serif", "Times New Roman", serif' font-size="33.48">=164.6 eV</text>
<line x1="1850.3" y1="1969.7" x2="1760.4" y2="2054.5" stroke="#000" stroke-width="2.2"/>
<polygon points="1749.5,2064.8 1758.1,2049.1 1765.6,2057.1" fill="#000"/>
<rect x="1099.8" y="1694.0" width="780.4" height="681.6" fill="none" stroke="#000" stroke-width="2.5"/>
<line x1="1099.8" y1="2375.6" x2="1099.8" y2="2363.1" stroke="#000" stroke-width="2.38"/>
<line x1="1211.3" y1="2375.6" x2="1211.3" y2="2363.1" stroke="#000" stroke-width="2.38"/>
<line x1="1322.8" y1="2375.6" x2="1322.8" y2="2363.1" stroke="#000" stroke-width="2.38"/>
<line x1="1434.3" y1="2375.6" x2="1434.3" y2="2363.1" stroke="#000" stroke-width="2.38"/>
<line x1="1545.7" y1="2375.6" x2="1545.7" y2="2363.1" stroke="#000" stroke-width="2.38"/>
<line x1="1657.2" y1="2375.6" x2="1657.2" y2="2363.1" stroke="#000" stroke-width="2.38"/>
<line x1="1768.7" y1="2375.6" x2="1768.7" y2="2363.1" stroke="#000" stroke-width="2.38"/>
<line x1="1880.2" y1="2375.6" x2="1880.2" y2="2363.1" stroke="#000" stroke-width="2.38"/>
<line x1="1099.8" y1="2326.9" x2="1112.3" y2="2326.9" stroke="#000" stroke-width="2.38"/>
<line x1="1099.8" y1="2229.5" x2="1112.3" y2="2229.5" stroke="#000" stroke-width="2.38"/>
<line x1="1099.8" y1="2132.2" x2="1112.3" y2="2132.2" stroke="#000" stroke-width="2.38"/>
<line x1="1099.8" y1="2034.8" x2="1112.3" y2="2034.8" stroke="#000" stroke-width="2.38"/>
<line x1="1099.8" y1="1937.4" x2="1112.3" y2="1937.4" stroke="#000" stroke-width="2.38"/>
<line x1="1099.8" y1="1840.1" x2="1112.3" y2="1840.1" stroke="#000" stroke-width="2.38"/>
<line x1="1099.8" y1="1742.7" x2="1112.3" y2="1742.7" stroke="#000" stroke-width="2.38"/>
<text transform="translate(1037.94,2334.91) scale(0.8000,1)" font-size="28.00">1200</text>
<text transform="translate(1037.94,2237.54) scale(0.8000,1)" font-size="28.00">1400</text>
<text transform="translate(1037.94,2140.17) scale(0.8000,1)" font-size="28.00">1600</text>
<text transform="translate(1037.94,2042.80) scale(0.8000,1)" font-size="28.00">1800</text>
<text transform="translate(1037.94,1945.43) scale(0.8000,1)" font-size="28.00">2000</text>
<text transform="translate(1037.94,1848.06) scale(0.8000,1)" font-size="28.00">2200</text>
<text transform="translate(1037.94,1750.69) scale(0.8000,1)" font-size="28.00">2400</text>
<text transform="translate(1081.42,2412.30) scale(0.8000,1)" font-size="28.00">159</text>
<text transform="translate(1192.79,2412.30) scale(0.8000,1)" font-size="28.00">160</text>
<text transform="translate(1304.39,2412.30) scale(0.8000,1)" font-size="28.00">161</text>
<text transform="translate(1415.93,2412.30) scale(0.8000,1)" font-size="28.00">162</text>
<text transform="translate(1527.30,2412.30) scale(0.8000,1)" font-size="28.00">163</text>
<text transform="translate(1638.68,2412.30) scale(0.8000,1)" font-size="28.00">164</text>
<text transform="translate(1750.27,2412.30) scale(0.8000,1)" font-size="28.00">165</text>
<text transform="translate(1861.76,2412.30) scale(0.8000,1)" font-size="28.00">166</text>
<text transform="translate(992.90,2065.21) rotate(-90) scale(0.8979,1)" font-family='"Liberation Serif", "Times New Roman", serif' font-size="36.52">C/S</text>
<text transform="translate(1417.27,2458.60) scale(0.8077,1)" font-family='"Liberation Serif", "Times New Roman", serif' font-size="34.20" fill="#000">Bingding energy</text>
<text transform="translate(1170.62,1870.20) scale(1.1887,1)" font-family='"Liberation Sans", Arial, sans-serif' font-size="83.17" fill="#ec1c24">f</text>
</svg></body></html>
